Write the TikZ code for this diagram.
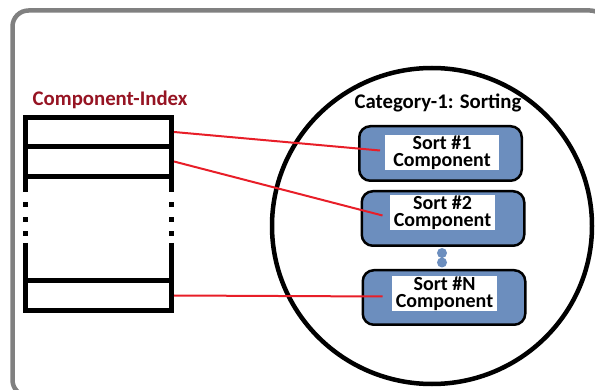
\documentclass[tikz,border=0pt]{standalone}
\usepackage{fontspec}
\setmainfont{Carlito}
\definecolor{idxRed}{RGB}{150, 20, 35}
\definecolor{sortBlue}{RGB}{108, 142, 190}
\definecolor{frameGray}{RGB}{128, 128, 128}
\definecolor{linkRed}{RGB}{232, 30, 40}

\tikzset{
  slot/.style={draw, line width=5pt, minimum width=146.5pt, minimum height=29.5pt, inner sep=0pt},
  sortbox/.style={draw, fill=sortBlue, line width=2.5pt, rounded corners=11pt, minimum width=162.5pt, minimum height=54.5pt},
  sortlabel/.style={fill=white, inner sep=0pt, minimum width=105pt, minimum height=32pt, align=center, font=\fontsize{20}{17.5}\selectfont\bfseries},
  heading/.style={font=\fontsize{20.8}{22}\selectfont\bfseries},
  link/.style={draw=linkRed, line width=2pt},
}

\begin{document}
\begin{tikzpicture}[x=1pt, y=-1pt]
\path[use as bounding box, clip] (0,0) rectangle (595,390);

% outer frame
\draw[frameGray, line width=4.5pt, rounded corners=16pt] (12.5,10.5) rectangle (606,396);

% index table
\node[heading, text=idxRed] (idxtitle) at (110,100) {Component-Index};
\node[slot] (slot1) at (98.25,132) {};
\node[slot] (slot2) at (98.25,161.5) {};
\node[slot] (slotN) at (98.25,295.5) {};
\foreach \x in {25,171.5} {
  \draw[line width=5pt] (\x,176) -- (\x,192);
  \draw[line width=5pt] (\x,243) -- (\x,281);
  \foreach \y in {205,219.5,233.5}
    \fill (\x-2.5,\y-2.5) rectangle (\x+2.5,\y+2.5);
}

% category circle
\draw[line width=4.5pt] (432,226) ellipse [x radius=160, y radius=158];
\node[heading] (cattitle) at (438,103) {Category-1: Sorting};

% sort components
\node[sortbox] (sort1) at (440.5,153.5) {};
\node[sortbox] (sort2) at (443,218.5) {};
\node[sortbox] (sortN) at (444,297.5) {};
\node[sortlabel, minimum width=114pt, minimum height=35pt] (lab1) at (442,152.5) {Sort \#1\\Component};
\node[sortlabel, minimum height=31pt] (lab2) at (442.5,212.5) {Sort \#2\\Component};
\node[sortlabel, minimum height=33pt] (labN) at (444.5,293.5) {Sort \#N\\Component};
\fill[sortBlue] (442,253) circle (5) (442,262.5) circle (5);

% index entries to components
\draw[link] (slot1.east) -- ([xshift=22pt, yshift=3pt]sort1.west);
\draw[link] (slot2.east) -- ([xshift=22pt, yshift=3pt]sort2.west);
\draw[link] (slotN.east) -- ([xshift=21pt, yshift=1pt]sortN.west);
\end{tikzpicture}
\end{document}
